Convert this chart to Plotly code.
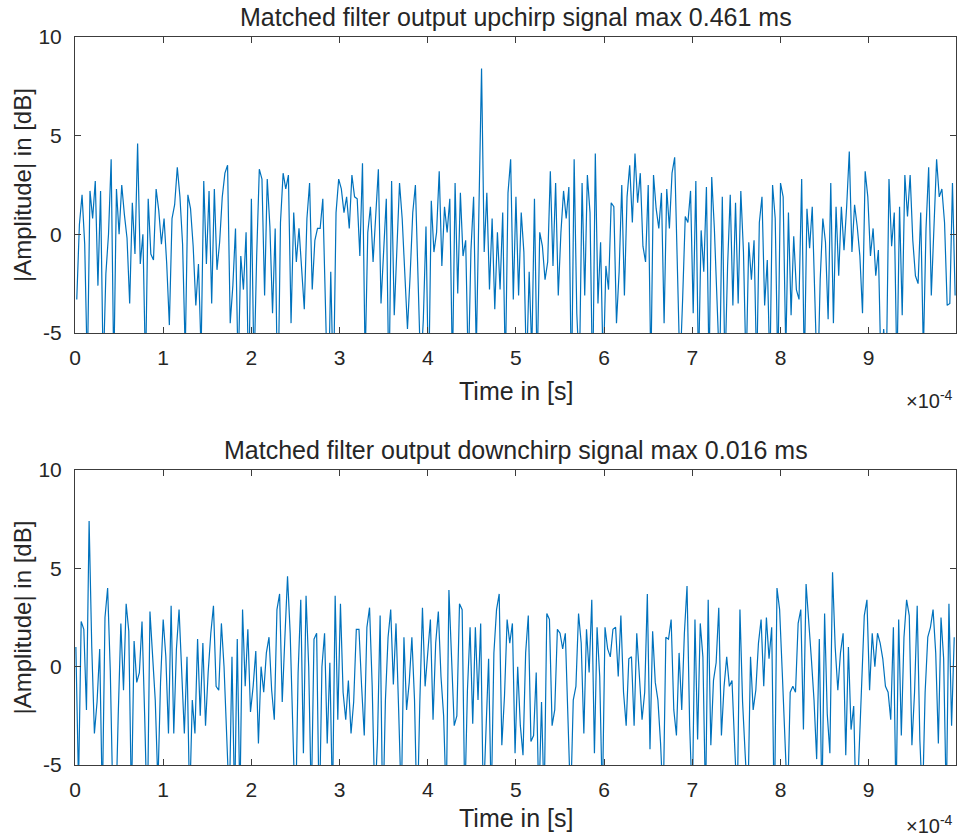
import numpy as np
import plotly.graph_objects as go
from plotly.subplots import make_subplots

# Sample grid: 3 microsecond spacing, 333 samples per record
SAMPLE_STEP_US = 3
N_SAMPLES = 333
UP_OFFSET_US = 2
DOWN_OFFSET_US = 1

# Matched filter output (dB) for the upchirp record
upchirp_db = [
    -3.3, 0.5, 2.0, -0.5, -7, 2.2, 0.8, 2.7, -2.6, 2.2,
    -7, -2.0, 0.0, 3.8, -7, 2.3, 0.0, 2.5, 1.0, -0.2,
    -3.5, 1.6, -1.0, 4.6, -1.5, 0.0, -7, 1.8, -1.0, -1.3,
    2.3, 1.2, -0.5, 0.8, -1.5, -4.6, 0.8, 1.5, 3.4, 1.9,
    -0.5, -6, 2.0, 1.3, -0.6, -3.6, -1.5, -6, 2.7, -1.5,
    2.2, -3.5, 2.3, -1.8, -0.4, 1.9, 3.1, 3.5, -4.5, -2.6,
    0.3, -7, -1.1, -2.8, 0.1, -8, 1.8, -7, -1.1, 3.3,
    2.8, -3.1, 2.8, 0.4, -4.0, 0.3, -9, 0.6, 3.1, 2.3,
    3.0, -4.5, 1.1, -1.4, 0.3, -1.9, -3.8, 0.8, 2.6, -2.8,
    -0.3, 0.3, 0.3, 1.8, -7, -9, -1.9, -8, 1.1, 2.8,
    2.3, 1.1, 1.9, 0.3, 3.0, 1.9, 1.8, -1.1, 3.6, -6.5,
    0.1, 1.4, -1.4, 1.0, 3.3, -3.5, -0.6, 1.8, -8, 2.7,
    -4.1, -0.5, 2.6, 0.8, -1.9, -4.8, -2.1, 1.1, 2.5, -3.0,
    -7, -4.3, 0.4, -8, 1.7, -0.9, 0.1, 3.2, -1.6, 1.4,
    0.1, 1.8, -7, 2.6, -3.0, 2.1, -1.1, -0.3, -7, -0.8,
    1.9, -6, 1.4, 8.4, -0.9, 2.1, -2.8, 0.8, -3.8, 0.1,
    -2.8, 1.1, -7, 2.1, 3.8, -3.3, 1.9, -3.1, 1.1, -0.9,
    -7, -1.9, -6, 1.8, -7, 0.1, -0.6, -2.3, -1.4, 3.2,
    -1.6, 2.6, -3.1, 0.1, 2.2, 0.8, 2.4, -8, 3.8, -4.0,
    -7, 2.6, -3.1, 3.0, 1.1, -8, 4.1, -3.5, -0.4, -7,
    -1.6, -2.8, 1.6, 1.4, -4.5, -1.9, 2.5, -3.1, 1.9, 3.5,
    0.6, 4.1, 1.6, 3.1, -0.6, -1.4, 2.5, -7, 3.0, 1.3,
    0.3, 2.1, -4.5, 2.3, 0.3, 3.1, 3.9, -1.1, -7, -3.3,
    0.9, 0.6, 2.2, -4.0, 2.7, -7, 0.2, -1.9, 2.4, -7,
    2.9, 0.3, -3.1, -7, 1.9, -7, -1.6, 2.0, -3.6, 1.6,
    -3.5, 2.2, -0.9, -7, -0.4, -2.3, -0.3, -7, 0.6, 1.9,
    -3.6, -1.3, -7, 2.5, 0.8, -7, 2.6, 1.9, -6, 1.1,
    -4.1, -0.1, -2.8, -3.3, 2.8, -7, 1.3, -0.7, 1.4, -3.8,
    -8, -2.3, 0.8, -0.4, -4.3, 2.6, -4.5, 1.4, -2.1, 1.4,
    -0.8, 1.4, 4.2, -0.9, 1.5, 0.4, -1.1, -4.0, 3.2, 1.9,
    -1.1, 0.3, -2.1, -0.8, -7, -4.8, -7, 2.8, -0.6, 1.1,
    -7, 1.4, -4.1, 3.0, 0.9, 3.0, -0.3, -2.1, -2.5, 1.1,
    -6, 0.3, 3.4, -3.1, 0.3, 3.8, 1.9, 2.3, 0.6, -3.6,
    -3.5, 2.6, -3.1,
]

# Matched filter output (dB) for the downchirp record
downchirp_db = [
    1.0, -6, 2.3, 1.9, -2.2, 7.4, 1.0, -3.4, -1.8, 0.9,
    -7, 2.5, 4.0, -0.2, -7, -8, -2.5, 2.2, -1.2, 3.2,
    1.8, -7, 1.3, -0.8, -0.3, 2.3, -2.5, -8, 2.8, 0.4,
    -1.7, -6, -0.8, 2.4, 0.5, -3.4, 3.1, -3.4, 0.9, 2.9,
    0.0, -3.4, 0.5, -7, -1.7, -3.4, 1.4, -2.5, 1.2, -3.0,
    -0.3, 1.7, 3.1, -1.0, -1.2, 2.2, 0.0, -2.9, -7, 0.5,
    -7, 1.4, -7, 2.9, -1.0, 1.9, -2.3, -1.0, 0.8, -3.9,
    0.0, -1.3, 0.7, 1.5, -1.2, -2.7, 2.9, 3.7, -1.8, 1.5,
    4.6, 1.7, -3.0, -8, -0.3, 3.4, -4.4, 3.6, 0.0, -7,
    1.4, 1.7, -8, 0.0, 1.7, -3.9, 0.2, -7, 3.6, -2.7,
    3.2, -1.3, -2.7, -0.7, -3.4, -1.8, 1.9, 1.9, -1.0, -3.5,
    2.0, 3.0, -1.0, -7, -3.7, 2.6, -8, -1.7, 1.5, 2.9,
    -0.9, 2.2, -2.2, -7, 1.5, -2.2, -0.8, 1.5, -1.7, -8,
    -1.8, 3.0, -1.0, 0.7, 2.4, -2.7, 1.2, 2.8, -0.5, -2.5,
    -7, 3.9, 0.4, -3.0, -2.5, 3.2, 2.9, -7, -1.2, 2.0,
    -2.9, 2.0, -1.7, 2.2, -7, -3.2, 0.4, -7, 0.7, 2.9,
    3.7, -4.0, -1.5, 2.4, 1.2, 2.2, -4.4, 0.0, -3.0, -4.5,
    0.7, 2.6, -3.8, -3.5, -0.3, -7, -1.8, -7, 2.7, 2.4,
    -3.0, -2.2, 1.9, 1.7, 0.9, 1.7, -3.0, -7, -1.7, -1.0,
    2.7, 1.2, -3.4, 1.9, -0.3, 3.4, -4.4, 2.0, -0.5, -7,
    2.0, 0.9, 0.5, 1.9, 2.0, -0.5, 2.6, -1.3, -3.0, 0.4,
    0.5, -3.0, 1.7, -0.8, -2.7, -1.3, 3.7, -4.2, 1.8, -0.8,
    -1.7, -3.9, -7, 1.5, 1.4, 2.4, -2.2, -3.5, 0.7, -2.2,
    1.7, 4.1, -3.0, -7, 2.4, -3.7, 2.2, 0.5, -7, 3.4,
    -4.0, -0.7, 0.2, 3.0, -3.5, -1.0, 0.5, -1.0, -0.7, -4.0,
    -7, 2.9, -1.8, -4.5, -7, 0.5, -2.2, -1.2, 1.2, 2.4,
    -1.0, 2.5, 0.4, 2.0, -8, 4.0, 2.9, -0.3, -4.0, -7,
    -1.3, -1.0, -1.3, 2.2, 2.9, -3.2, 4.2, 2.0, 0.4, -1.7,
    -4.7, 1.4, -7, 2.7, -2.4, -4.4, 4.8, 1.0, -1.2, 0.7,
    1.7, -4.5, 1.0, -3.2, -2.0, -8, -4.4, -1.7, 2.6, 3.4,
    -1.2, 1.7, 0.0, 1.7, 1.2, 0.4, -1.0, -1.3, -2.7, 2.0,
    -7, 2.4, -3.5, 1.5, 3.4, 2.6, -4.0, -1.3, 3.1, -3.7,
    -7, -1.3, 1.5, 2.0, 2.9, 0.7, -3.9, 2.5, 0.4, -7,
    3.2, -3.0, 1.5,
]

titles = [
    "Matched filter output upchirp signal max 0.461 ms",
    "Matched filter output downchirp signal max 0.016 ms",
]
x_tick_vals = [k * 1e-4 for k in range(10)]
x_tick_text = [str(k) for k in range(10)]
y_tick_vals = [-5, 0, 5, 10]
y_tick_text = ["-5", "0", "5", "10"]

t_up = (UP_OFFSET_US + SAMPLE_STEP_US * np.arange(N_SAMPLES)) * 1e-6
t_down = (DOWN_OFFSET_US + SAMPLE_STEP_US * np.arange(N_SAMPLES)) * 1e-6

FONT = "Liberation Sans, Arial, Helvetica, sans-serif"
TXT = "#262626"
AX = "#3c3c3c"
LINE = "#0072BD"

W, H = 957, 836
ML, MR, MT, MB = 75, 1, 37, 71
plot_h = H - MT - MB


def py(px):
    """Convert a page y pixel to paper coordinates."""
    return (H - MB - px) / plot_h


def px_x(px):
    return (px - ML) / (W - ML - MR)


fig = make_subplots(rows=2, cols=1)
fig.add_trace(go.Scatter(x=t_up, y=upchirp_db, mode="lines",
                         line=dict(color=LINE, width=1.2), showlegend=False), row=1, col=1)
fig.add_trace(go.Scatter(x=t_down, y=downchirp_db, mode="lines",
                         line=dict(color=LINE, width=1.2), showlegend=False), row=2, col=1)

axis_common = dict(showline=True, mirror="ticks", linecolor=AX, linewidth=1,
                   ticks="inside", ticklen=6, tickcolor=AX, tickwidth=1,
                   showgrid=False, zeroline=False,
                   tickfont=dict(family=FONT, size=21, color=TXT))

fig.update_xaxes(range=[0, 9.99e-4], tickvals=x_tick_vals, ticktext=x_tick_text,
                 ticklabelstandoff=6, **axis_common)
fig.update_yaxes(range=[-5, 10], tickvals=y_tick_vals, ticktext=y_tick_text,
                 ticklabelstandoff=8, **axis_common)

fig.update_layout(
    xaxis=dict(domain=[0, 1]), xaxis2=dict(domain=[0, 1]),
    yaxis=dict(domain=[py(333), 1]), yaxis2=dict(domain=[0, py(470)]),
)

annotations = []
for title, top_px, bottom_px, xlab_px, exp_px in [(titles[0], 37, 333, 391, 399),
                                                  (titles[1], 470, 765, 818, 824)]:
    annotations.append(dict(text=title, x=0.5, y=py(top_px - 20), xref="paper", yref="paper",
                            showarrow=False, xanchor="center", yanchor="middle",
                            font=dict(family=FONT, size=25, color=TXT)))
    annotations.append(dict(text="Time in [s]", x=0.5, y=py(xlab_px), xref="paper",
                            yref="paper", showarrow=False, xanchor="center", yanchor="middle",
                            font=dict(family=FONT, size=25, color=TXT)))
    annotations.append(dict(text="|Amplitude| in [dB]", x=px_x(22), y=py((top_px + bottom_px) / 2),
                            xref="paper", yref="paper", showarrow=False, textangle=-90,
                            xanchor="center", yanchor="middle",
                            font=dict(family=FONT, size=24, color=TXT)))
    annotations.append(dict(text="\u00d710<sup>-4</sup>", x=px_x(955), y=py(exp_px),
                            xref="paper", yref="paper", showarrow=False, xanchor="right",
                            yanchor="middle", font=dict(family=FONT, size=20, color=TXT)))

fig.update_layout(
    width=W, height=H,
    margin=dict(l=ML, r=MR, t=MT, b=MB),
    paper_bgcolor="white", plot_bgcolor="white",
    annotations=annotations,
    font=dict(family=FONT, color=TXT),
)

fig.write_html("out.html")
